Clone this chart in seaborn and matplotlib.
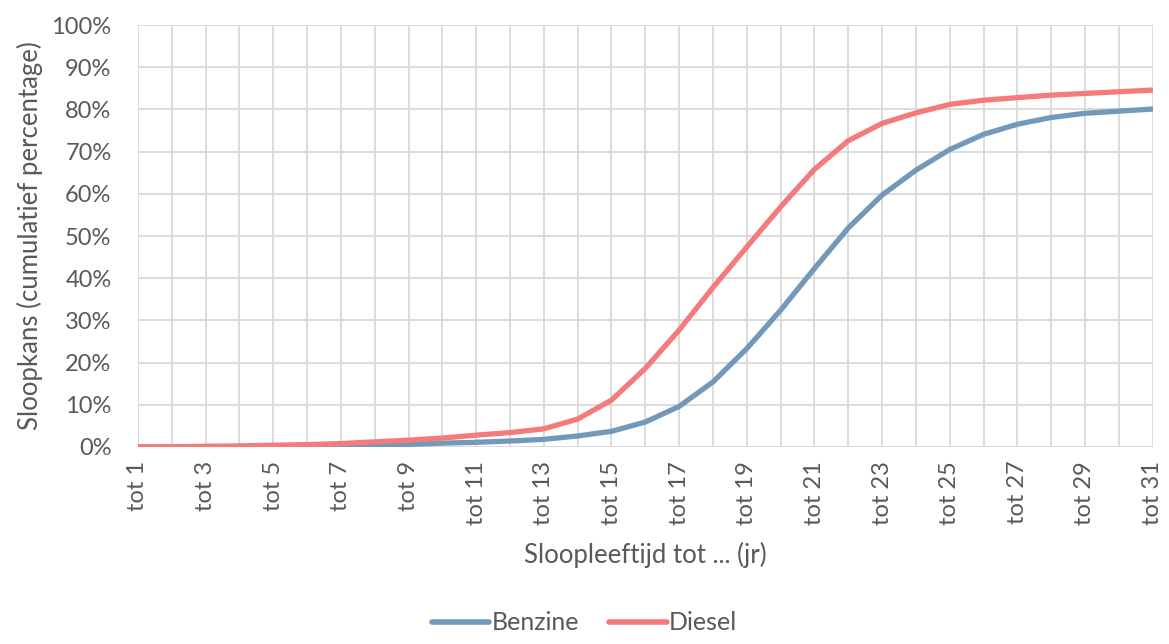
import pandas as pd
import seaborn as sns
import matplotlib.pyplot as plt
import matplotlib.ticker as ticker

categories = [f"tot {i}" for i in range(1, 32)]
benzine = [0, 0, 0.02, 0.05, 0.1, 0.15, 0.25, 0.4, 0.6, 0.9, 1.1, 1.4, 1.8, 2.6, 3.7, 5.9,
           9.6, 15.4, 23.3, 32.4, 42.3, 51.9, 59.7, 65.6, 70.5, 74.1, 76.5, 78.1, 79.1, 79.6, 80.1]
diesel = [0, 0.05, 0.15, 0.25, 0.4, 0.55, 0.8, 1.2, 1.6, 2.1, 2.8, 3.4, 4.3, 6.6, 11.1, 18.6,
          27.7, 37.8, 47.4, 56.9, 65.8, 72.6, 76.7, 79.2, 81.2, 82.2, 82.8, 83.4, 83.8, 84.2, 84.6]
series = ["Benzine", "Diesel"]
colors = {"Benzine": "#7399BA", "Diesel": "#F47A7B"}

df = pd.DataFrame({
    "pos": list(range(len(categories))) * 2,
    "waarde": benzine + diesel,
    "Brandstof": [series[0]] * len(benzine) + [series[1]] * len(diesel),
})

sns.set_style("white")
plt.rcParams['font.family'] = ['Lato', 'DejaVu Sans']
text_color = "#595959"

fig = plt.figure(figsize=(11.69, 6.44), dpi=100)
ax = fig.add_axes([0.118, 0.306, 0.868, 0.655])

sns.lineplot(data=df, x="pos", y="waarde", hue="Brandstof", palette=colors,
             linewidth=3.8, ax=ax, legend=False, solid_capstyle='round')

ax.set_xlim(0, len(categories) - 1)
ax.set_ylim(0, 100)
ax.set_xticks(range(len(categories)))
ax.set_xticklabels([c if i % 2 == 0 else "" for i, c in enumerate(categories)],
                   rotation=90, fontsize=17, color=text_color)
ax.yaxis.set_major_locator(ticker.MultipleLocator(10))
ax.yaxis.set_major_formatter(ticker.FuncFormatter(lambda v, p: f"{v:.0f}%"))
ax.tick_params(axis='y', labelsize=17, labelcolor=text_color, length=0, pad=19)
ax.tick_params(axis='x', length=0, pad=10)
ax.grid(True, color="#D9D9D9", linewidth=1.3)
ax.set_axisbelow(True)
for s in ax.spines.values():
    s.set_visible(False)

ax.set_xlabel("Sloopleeftijd tot ... (jr)", fontsize=18.5, color=text_color, labelpad=12)
ax.set_ylabel("Sloopkans (cumulatief percentage)", fontsize=18.5, color=text_color, labelpad=6)

handles = [plt.Line2D([], [], color=colors[s], linewidth=4, solid_capstyle='round') for s in series]
fig.legend(handles, series, loc='lower center', bbox_to_anchor=(0.5, -0.02), ncol=2,
           frameon=False, fontsize=18, labelcolor=text_color, handlelength=2.3,
           handletextpad=0.1, columnspacing=1.2)

fig.savefig("out.png", dpi=100)
plt.close(fig)
